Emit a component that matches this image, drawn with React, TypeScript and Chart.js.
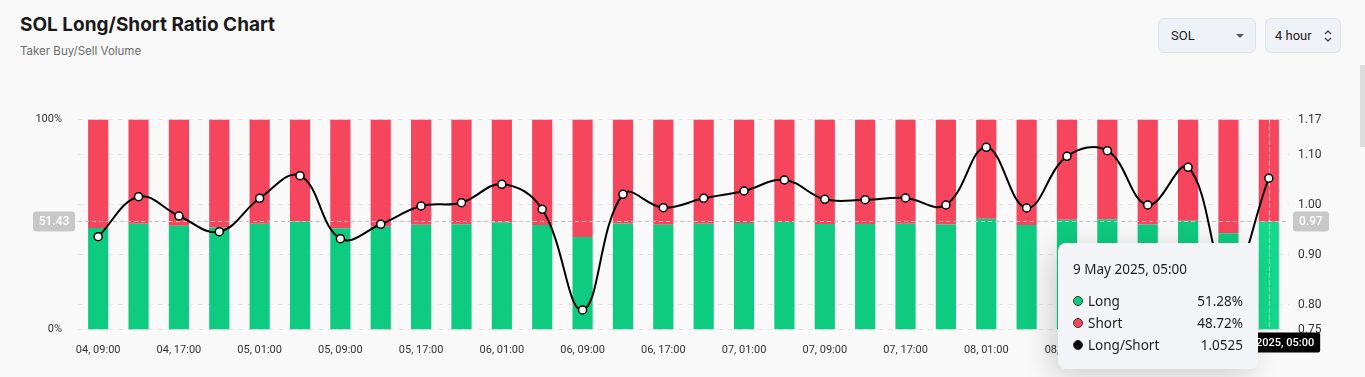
import React, { useEffect, useRef } from "react";
import { Chart, registerables } from "chart.js";

Chart.register(...registerables);

const categories = [
  "04, 09:00", "04, 13:00", "04, 17:00", "04, 21:00",
  "05, 01:00", "05, 05:00", "05, 09:00", "05, 13:00", "05, 17:00", "05, 21:00",
  "06, 01:00", "06, 05:00", "06, 09:00", "06, 13:00", "06, 17:00", "06, 21:00",
  "07, 01:00", "07, 05:00", "07, 09:00", "07, 13:00", "07, 17:00", "07, 21:00",
  "08, 01:00", "08, 05:00", "08, 09:00", "08, 13:00", "08, 17:00", "08, 21:00",
  "09, 01:00", "09, 05:00",
];

const longPct = [
  48.34, 50.39, 49.42, 48.6, 50.31, 51.4, 48.23, 48.99, 49.92, 50.09,
  50.99, 49.76, 44.1, 50.5, 49.84, 50.31, 50.67, 51.2, 50.26, 50.24,
  50.32, 49.97, 52.7, 49.82, 52.3, 52.55, 49.97, 51.79, 45.86, 51.28,
];

const shortPct = [
  51.66, 49.61, 50.58, 51.4, 49.69, 48.6, 51.77, 51.01, 50.08, 49.91,
  49.01, 50.24, 55.9, 49.5, 50.16, 49.69, 49.33, 48.8, 49.74, 49.76,
  49.68, 50.03, 47.3, 50.18, 47.7, 47.45, 50.03, 48.21, 54.14, 48.72,
];

const ratio = [
  0.9356, 1.0156, 0.977, 0.9456, 1.0124, 1.0576, 0.9316, 0.9604, 0.997, 1.0036,
  1.0404, 0.9904, 0.789, 1.0204, 0.9936, 1.0124, 1.027, 1.049, 1.0104, 1.0096,
  1.013, 0.999, 1.1144, 0.993, 1.0964, 1.1076, 0.999, 1.0744, 0.847, 1.0525,
];

const ratioTicks = [0.75, 0.8, 0.9, 1.0, 1.1, 1.17];
const pctTicks = [0, 100];

const hoverIndex = 29;
const hoverTitle = "9 May 2025, 05:00";
const crossPct = 51.43;

const GREEN = "#0ecb81";
const GREEN_HOVER = "#14d98c";
const RED = "#f6465d";

const crosshairPlugin = {
  id: "crosshair",
  beforeDatasetDraw(chart: any, args: any) {
    if (args.index !== 2) return;
    const { ctx, chartArea, scales } = chart;
    const y = scales.y.getPixelForValue(crossPct);
    const x = scales.x.getPixelForValue(hoverIndex);
    ctx.save();
    ctx.lineWidth = 1;
    ctx.setLineDash([4, 3]);
    ctx.strokeStyle = "#c4c4c4";
    ctx.beginPath();
    ctx.moveTo(chartArea.left, Math.round(y) + 0.5);
    ctx.lineTo(chartArea.right, Math.round(y) + 0.5);
    ctx.stroke();
    ctx.strokeStyle = "rgba(255,255,255,0.8)";
    ctx.beginPath();
    ctx.moveTo(Math.round(x) + 0.5, chartArea.top);
    ctx.lineTo(Math.round(x) + 0.5, chartArea.bottom);
    ctx.stroke();
    ctx.restore();
  },
  afterDraw(chart: any) {
    const { ctx, chartArea, scales } = chart;
    const y = scales.y.getPixelForValue(crossPct);
    const x = scales.x.getPixelForValue(hoverIndex);
    const rightVal = scales.y1.getValueForPixel(y).toFixed(2);
    ctx.save();
    ctx.font = "500 12px Roboto";
    ctx.textBaseline = "middle";
    ctx.textAlign = "center";
    ctx.fillStyle = "#c8c8c8";
    ctx.beginPath();
    ctx.roundRect(chartArea.left - 45, y - 10, 42, 20, 3);
    ctx.fill();
    ctx.fillStyle = "#ffffff";
    ctx.fillText(crossPct.toFixed(2), chartArea.left - 24, y + 0.5);
    ctx.fillStyle = "#c8c8c8";
    ctx.beginPath();
    ctx.roundRect(chartArea.right + 4, y - 10, 36, 20, 3);
    ctx.fill();
    ctx.fillStyle = "#ffffff";
    ctx.fillText(rightVal, chartArea.right + 22, y + 0.5);
    ctx.font = "500 11px Roboto";
    const w = ctx.measureText(hoverTitle).width + 12;
    ctx.fillStyle = "#000000";
    ctx.beginPath();
    ctx.roundRect(x - w / 2, chartArea.bottom + 3, w, 20, 2);
    ctx.fill();
    ctx.fillStyle = "#ffffff";
    ctx.fillText(hoverTitle, x, chartArea.bottom + 13.5);
    ctx.restore();
  },
};

function ChartCanvas() {
  const ref = useRef<HTMLCanvasElement | null>(null);
  useEffect(() => {
    if (!ref.current) return;
    const chart = new Chart(ref.current, {
      type: "bar",
      data: {
        labels: categories,
        datasets: [
          {
            label: "Long",
            data: longPct,
            backgroundColor: longPct.map((_, i) => (i === hoverIndex ? GREEN_HOVER : GREEN)),
            yAxisID: "y",
            stack: "ls",
            order: 2,
            barPercentage: 0.5,
            categoryPercentage: 1,
          },
          {
            label: "Short",
            data: shortPct,
            backgroundColor: RED,
            yAxisID: "y",
            stack: "ls",
            order: 2,
            barPercentage: 0.5,
            categoryPercentage: 1,
          },
          {
            type: "line",
            label: "Long/Short",
            data: ratio,
            yAxisID: "y1",
            borderColor: "#000000",
            borderWidth: 2,
            tension: 0.4,
            pointRadius: 4,
            pointBorderWidth: 1.5,
            pointBorderColor: "#000000",
            pointBackgroundColor: "#ffffff",
            order: 0,
          } as any,
        ],
      },
      options: {
        animation: false,
        responsive: false,
        events: [],
        layout: { padding: { top: 19.5, bottom: 0, left: 0, right: 0 } },
        plugins: { legend: { display: false }, tooltip: { enabled: false } },
        scales: {
          x: {
            stacked: true,
            offset: true,
            grid: { display: false },
            border: { display: false },
            afterFit: (s: any) => {
              s.height = 47.5;
            },
            ticks: {
              autoSkip: false,
              maxRotation: 0,
              padding: 6,
              color: "#333333",
              font: { family: "Roboto", size: 11 },
              callback: (_v: any, i: number) => (i % 2 === 0 ? categories[i] : ""),
            },
          },
          y: {
            position: "left",
            stacked: true,
            min: 0,
            max: 100,
            grid: { display: false },
            border: { display: false },
            afterBuildTicks: (s: any) => {
              s.ticks = pctTicks.map((v) => ({ value: v }));
            },
            afterFit: (s: any) => {
              s.width = 78;
            },
            ticks: {
              padding: 8,
              color: "#333333",
              font: { family: "Roboto", size: 11 },
              callback: (v: any) => v + "%",
            },
          },
          y1: {
            position: "right",
            min: 0.75,
            max: 1.17,
            grid: { color: "#e4e4e4", drawTicks: false },
            border: { display: false, dash: [5, 5] },
            afterBuildTicks: (s: any) => {
              s.ticks = ratioTicks.map((v) => ({ value: v }));
            },
            afterFit: (s: any) => {
              s.width = 76;
            },
            ticks: {
              padding: 9,
              color: "#333333",
              font: { family: "Roboto", size: 12 },
              callback: (v: any) => Number(v).toFixed(2),
            },
          },
        },
      },
      plugins: [crosshairPlugin],
    } as any);
    return () => chart.destroy();
  }, []);
  return (
    <canvas
      ref={ref}
      width={1365}
      height={277}
      style={{ position: "absolute", left: 0, top: 100, width: 1365, height: 277 }}
    />
  );
}

const dotStyle = (c: string): React.CSSProperties => ({
  display: "inline-block",
  width: 8,
  height: 8,
  borderRadius: "50%",
  background: c,
  border: "1.5px solid #333",
  marginRight: 5,
  verticalAlign: "middle",
  position: "relative",
  top: -1,
});

export default function App() {
  const rows = [
    { name: "Long", color: GREEN, value: longPct[hoverIndex].toFixed(2) + "%" },
    { name: "Short", color: RED, value: shortPct[hoverIndex].toFixed(2) + "%" },
    { name: "Long/Short", color: "#000000", value: ratio[hoverIndex].toFixed(4) },
  ];
  return (
    <div
      style={{
        position: "fixed",
        left: 0,
        top: 0,
        width: 1365,
        height: 377,
        background: "#f9f9f9",
        overflow: "hidden",
        fontFamily: "Inter, sans-serif",
      }}
    >
      <div style={{ position: "absolute", left: 20, top: 13, fontSize: 19, fontWeight: 700, color: "#1a1a1a", lineHeight: "24px" }}>
        SOL Long/Short Ratio Chart
      </div>
      <div style={{ position: "absolute", left: 20, top: 44, fontSize: 11.5, color: "#6b6b6b" }}>
        Taker Buy/Sell Volume
      </div>
      <div
        style={{
          position: "absolute", left: 1158, top: 18, width: 98, height: 35, boxSizing: "border-box",
          background: "#eef2f6", border: "1px solid #dde4ec", borderRadius: 6,
          fontFamily: "Roboto", fontSize: 13, color: "#222", lineHeight: "33px", paddingLeft: 12,
        }}
      >
        SOL
        <svg width="10" height="6" style={{ position: "absolute", left: 76, top: 14 }}>
          <path d="M1 1 L5 5 L9 1 Z" fill="#555" />
        </svg>
      </div>
      <div
        style={{
          position: "absolute", left: 1265, top: 18, width: 76, height: 35, boxSizing: "border-box",
          background: "#eef2f6", border: "1px solid #dde4ec", borderRadius: 6,
          fontFamily: "Roboto", fontSize: 13, color: "#222", lineHeight: "33px", paddingLeft: 9,
        }}
      >
        4 hour
        <svg width="10" height="14" style={{ position: "absolute", left: 57, top: 10 }}>
          <path d="M2 5 L5 2 L8 5" stroke="#444" strokeWidth="1.3" fill="none" />
          <path d="M2 9 L5 12 L8 9" stroke="#444" strokeWidth="1.3" fill="none" />
        </svg>
      </div>
      <div style={{ position: "absolute", left: 1360, top: 65, width: 5, height: 82, background: "#dcdcdc" }} />
      <ChartCanvas />
      <div
        style={{
          position: "absolute", left: 1058, top: 243, width: 200, height: 126, boxSizing: "border-box",
          background: "#f2f4f7", borderRadius: 8, boxShadow: "-6px 6px 30px rgba(0,0,0,0.18)",
          fontFamily: "'Noto Sans', sans-serif", color: "#1e1e1e", padding: "17px 15px 0 15px",
        }}
      >
        <div style={{ fontSize: 13.5, lineHeight: "18px", marginBottom: 11.5 }}>{hoverTitle}</div>
        {rows.map((r) => (
          <div key={r.name} style={{ display: "flex", justifyContent: "space-between", fontSize: 13.5, lineHeight: "22px" }}>
            <span>
              <span style={dotStyle(r.color)} />
              {r.name}
            </span>
            <span>{r.value}</span>
          </div>
        ))}
      </div>
    </div>
  );
}
